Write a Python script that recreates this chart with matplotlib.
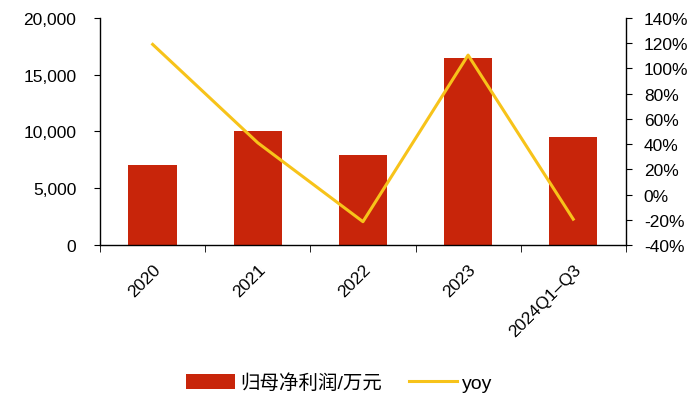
import matplotlib

matplotlib.use('Agg')
import matplotlib.pyplot as plt
from matplotlib.ticker import FuncFormatter, FixedLocator
import numpy as np

plt.rcParams['font.family'] = ['Liberation Sans', 'Noto Sans CJK SC', 'DejaVu Sans']
plt.rcParams['axes.unicode_minus'] = False

# 数据
categories = ['2020', '2021', '2022', '2023', '2024Q1–Q3']
profit = [7050, 10050, 7950, 16450, 9500]      # 归母净利润/万元
yoy = [119, 41, -21.5, 110.5, -19.5]           # %

bar_color = '#C8250A'
line_color = '#F7C31A'

fig = plt.figure(figsize=(7, 4.02), dpi=100)
ax = fig.add_axes([0.143, 0.388, 0.751, 0.565])
x = np.arange(len(categories))

bars = ax.bar(x, profit, width=0.46, color=bar_color, label='归母净利润/万元', zorder=2)
ax.set_xlim(-0.5, len(categories) - 0.5)
ax.set_ylim(0, 20000)
ax.set_yticks(np.arange(0, 20001, 5000))
ax.yaxis.set_major_formatter(FuncFormatter(lambda v, p: f'{int(v):,}'))

ax2 = ax.twinx()
line, = ax2.plot(x, yoy, color=line_color, lw=2.2, label='yoy', zorder=3)
ax2.set_ylim(-40, 140)
ax2.set_yticks(np.arange(-40, 141, 20))
ax2.yaxis.set_major_formatter(FuncFormatter(lambda v, p: f'{int(v)}%'))

# 坐标轴样式
for a in (ax, ax2):
    a.spines['top'].set_visible(False)
    for s in ('left', 'right', 'bottom'):
        a.spines[s].set_linewidth(1.0)
        a.spines[s].set_color('black')
ax.spines['right'].set_visible(False)
ax2.spines['left'].set_visible(False)
ax2.spines['bottom'].set_visible(False)

ax.tick_params(axis='y', direction='out', length=4, labelsize=12.5, pad=13)
ax2.tick_params(axis='y', direction='out', length=4, labelsize=12.5, pad=9)

ax.set_xticks(x)
ax.set_xticklabels(categories, rotation=45, ha='right', rotation_mode='anchor', fontsize=12.5)
ax.tick_params(axis='x', which='major', length=0, pad=12)
ax.xaxis.set_minor_locator(FixedLocator(np.arange(-0.5, len(categories) + 0.1, 1.0)))
ax.tick_params(axis='x', which='minor', direction='out', length=5)

fig.legend([bars, line], ['归母净利润/万元', 'yoy'], loc='center', bbox_to_anchor=(0.485, 0.045),
           ncol=2, frameon=False, fontsize=14, handlelength=2.5, handleheight=0.8,
           columnspacing=1.4, handletextpad=0.25)

fig.savefig('out.png', dpi=100)
